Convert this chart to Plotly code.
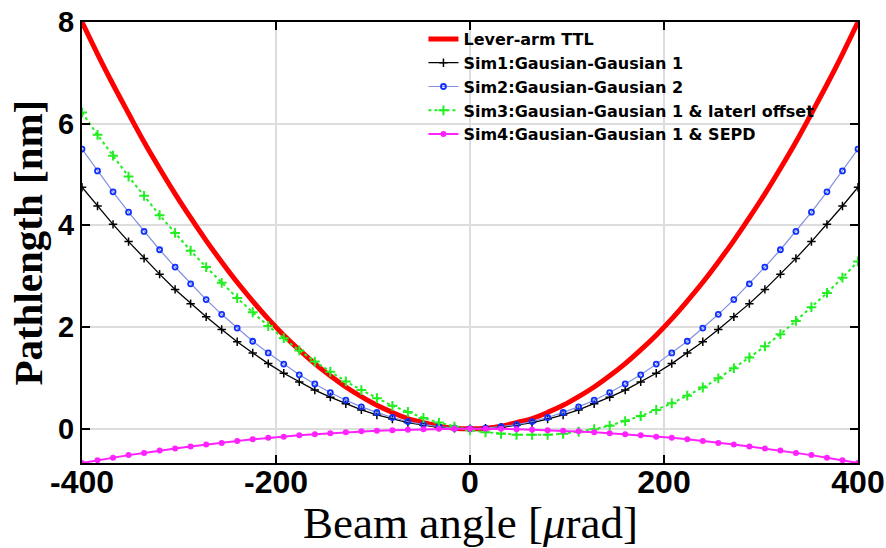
import plotly.graph_objects as go

# Beam angle [µrad], step 16
angle = [-400, -384, -368, -352, -336, -320, -304, -288, -272, -256, -240, -224, -208,
         -192, -176, -160, -144, -128, -112, -96, -80, -64, -48, -32, -16, 0,
         16, 32, 48, 64, 80, 96, 112, 128, 144, 160, 176, 192, 208, 224, 240,
         256, 272, 288, 304, 320, 336, 352, 368, 384, 400]

lever_ttl = [8.00, 7.37, 6.77, 6.20, 5.64, 5.12, 4.62, 4.15, 3.70, 3.28, 2.88, 2.51, 2.16,
             1.84, 1.55, 1.28, 1.04, 0.82, 0.63, 0.46, 0.32, 0.20, 0.12, 0.05, 0.01, 0.00,
             0.01, 0.05, 0.12, 0.20, 0.32, 0.46, 0.63, 0.82, 1.04, 1.28, 1.55, 1.84, 2.16,
             2.51, 2.88, 3.28, 3.70, 4.15, 4.62, 5.12, 5.64, 6.20, 6.77, 7.37, 8.00]

sim1 = [4.75, 4.38, 4.02, 3.68, 3.35, 3.04, 2.74, 2.46, 2.20, 1.95, 1.71, 1.49, 1.28,
        1.09, 0.92, 0.76, 0.62, 0.49, 0.37, 0.27, 0.19, 0.12, 0.07, 0.03, 0.01, 0.00,
        0.01, 0.03, 0.07, 0.12, 0.19, 0.27, 0.37, 0.49, 0.62, 0.76, 0.92, 1.09, 1.28,
        1.49, 1.71, 1.95, 2.20, 2.46, 2.74, 3.04, 3.35, 3.68, 4.02, 4.38, 4.75]

sim2 = [5.50, 5.07, 4.66, 4.26, 3.88, 3.52, 3.18, 2.85, 2.54, 2.25, 1.98, 1.72, 1.49,
        1.27, 1.06, 0.88, 0.71, 0.56, 0.43, 0.32, 0.22, 0.14, 0.08, 0.04, 0.01, 0.00,
        0.01, 0.04, 0.08, 0.14, 0.22, 0.32, 0.43, 0.56, 0.71, 0.88, 1.06, 1.27, 1.49,
        1.72, 1.98, 2.25, 2.54, 2.85, 3.18, 3.52, 3.88, 4.26, 4.66, 5.07, 5.50]

sim3 = [6.22, 5.78, 5.37, 4.96, 4.58, 4.20, 3.85, 3.50, 3.18, 2.87, 2.57, 2.29, 2.02,
        1.78, 1.54, 1.32, 1.12, 0.93, 0.76, 0.60, 0.45, 0.33, 0.21, 0.12, 0.04, -0.03,
        -0.07, -0.10, -0.12, -0.12, -0.12, -0.10, -0.06, -0.01, 0.06, 0.15, 0.25, 0.37,
        0.50, 0.65, 0.81, 0.99, 1.19, 1.40, 1.62, 1.86, 2.12, 2.39, 2.67, 2.97, 3.29]

sim4 = [-0.675, -0.62, -0.57, -0.52, -0.48, -0.43, -0.39, -0.35, -0.31, -0.28, -0.24,
        -0.21, -0.18, -0.16, -0.13, -0.11, -0.09, -0.07, -0.05, -0.04, -0.03, -0.02,
        -0.01, 0.00, 0.00, 0.00, 0.00, 0.00, -0.01, -0.02, -0.03, -0.04, -0.05, -0.07,
        -0.09, -0.11, -0.13, -0.16, -0.18, -0.21, -0.24, -0.28, -0.31, -0.35, -0.39,
        -0.43, -0.48, -0.52, -0.57, -0.62, -0.675]

x_ticks = [-400, -200, 0, 200, 400]
x_tick_labels = ["-400", "-200", "0", "200", "400"]
y_ticks = [0, 2, 4, 6, 8]
y_tick_labels = ["0", "2", "4", "6", "8"]

x_title = "Beam angle [<i>μ</i>rad]"
y_title = "<b>Pathlength [nm]</b>"

fig = go.Figure()

fig.add_trace(go.Scatter(
    x=angle, y=lever_ttl, mode="lines", name="Lever-arm TTL",
    line=dict(color="#ff0000", width=5, shape="spline")))
fig.add_trace(go.Scatter(
    x=angle, y=sim1, mode="lines+markers", name="Sim1:Gausian-Gausian 1",
    line=dict(color="#000000", width=1.3),
    marker=dict(symbol="cross-thin", size=6, line=dict(color="#000000", width=1.5))))
fig.add_trace(go.Scatter(
    x=angle, y=sim2, mode="lines+markers", name="Sim2:Gausian-Gausian 2",
    line=dict(color="#7f8fe0", width=1.2),
    marker=dict(symbol="circle-open", size=5, color="#1030ff", line=dict(color="#1030ff", width=1.8))))
fig.add_trace(go.Scatter(
    x=angle, y=sim3, mode="lines+markers", name="Sim3:Gausian-Gausian 1 & laterl offset",
    line=dict(color="#22ee22", width=2, dash="dot"),
    marker=dict(symbol="cross-thin", size=7, line=dict(color="#22ee22", width=2))))
fig.add_trace(go.Scatter(
    x=angle, y=sim4, mode="lines+markers", name="Sim4:Gausian-Gausian 1 & SEPD",
    line=dict(color="#ff22ff", width=2),
    marker=dict(symbol="circle", size=6, color="#ff22ff")))

axis_common = dict(
    showline=True, linecolor="black", linewidth=2, mirror="ticks",
    ticks="inside", ticklen=8, tickwidth=2, tickcolor="black",
    showgrid=True, gridcolor="#dddddd", gridwidth=1.5, zeroline=False,
    automargin=False, ticklabeloverflow="allow",
)

fig.update_xaxes(
    range=[-400, 400], tickvals=x_ticks, ticktext=x_tick_labels,
    tickfont=dict(family="Liberation Sans", size=32, color="black", weight="bold"),
    ticklabelstandoff=-10,
    **axis_common)
fig.update_yaxes(
    range=[-0.675, 8], tickvals=y_ticks, ticktext=y_tick_labels,
    tickfont=dict(family="Liberation Sans", size=29, color="black", weight="bold"),
    **axis_common)

fig.add_annotation(
    text=x_title, xref="paper", yref="paper", x=0.5, y=-0.136,
    xanchor="center", yanchor="middle", showarrow=False,
    font=dict(family="Liberation Serif", size=45, color="black"))
fig.add_annotation(
    text=y_title, xref="paper", yref="paper", x=-0.07, y=0.499,
    xanchor="center", yanchor="middle", showarrow=False, textangle=-90,
    font=dict(family="Liberation Serif", size=41, color="black"))

fig.update_layout(
    width=886, height=548,
    margin=dict(l=82, r=28, t=22, b=85),
    paper_bgcolor="white", plot_bgcolor="white",
    showlegend=True,
    legend=dict(
        x=0.44, y=1.0, xanchor="left", yanchor="top",
        bgcolor="rgba(0,0,0,0)", borderwidth=0,
        itemwidth=30, tracegroupgap=0,
        font=dict(family="DejaVu Sans", size=16, color="black", weight="bold")),
)

fig.write_html("out.html", config={"displayModeBar": False},
               post_script="document.body.style.margin='0';")
